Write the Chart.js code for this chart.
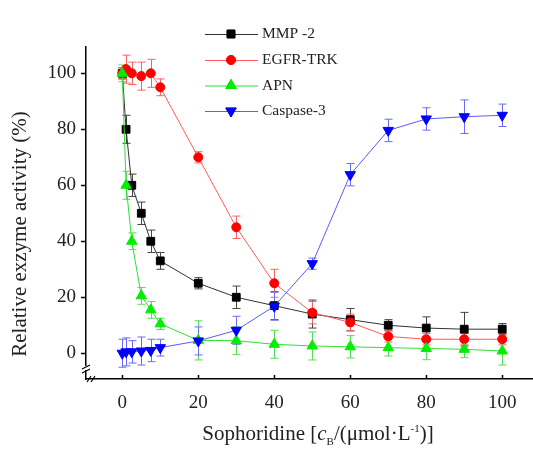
<!DOCTYPE html>
<html>
<head>
<meta charset="utf-8">
<script src="https://cdn.jsdelivr.net/npm/chart.js@4/dist/chart.umd.min.js"></script>
<style>
  html, body { margin: 0; padding: 0; background: #fff; }
  #wrap { width: 533px; height: 452px; }
</style>
</head>
<body>
<div id="wrap"><canvas id="chart" width="533" height="452"></canvas></div>
<script>
// Data
const concentrations = [0, 1, 2.5, 5, 7.5, 10, 20, 30, 40, 50, 60, 70, 80, 90, 100];
const xTicks = [0, 20, 40, 60, 80, 100];
const yTicks = [0, 20, 40, 60, 80, 100];

const mmp2 = [100, 80, 60, 50, 40, 33, 25, 20, 17, 14, 12, 10, 9, 8.6, 8.6];
const mmp2Err = [2, 5, 4, 4, 4, 3, 2, 4, 5, 5, 4, 2, 4, 6, 2];

const egfr = [100, 101.5, 100, 99, 100, 95, 70, 45, 25, 14.5, 11, 6, 5, 5, 5];
const egfrErr = [2, 5, 4, 5, 5, 3, 2, 4, 5, 4, 3, 2, 2, 2, 2];

const apn = [100, 60, 40, 20.5, 15.5, 10.5, 4.6, 4.5, 3.2, 2.6, 2.3, 2, 1.7, 1.4, 0.8];
const apnErr = [3, 5, 3, 3, 3, 2, 7, 5, 5, 5, 4, 3, 4, 3, 5];

const caspase = [0, 0.5, 0.5, 0.8, 1, 2, 4.4, 8.2, 16.8, 32, 63.8, 79.6, 83.7, 84.5, 85];
const caspaseErr = [5, 5, 4, 5, 4, 3, 5, 5, 5, 2, 4, 4, 4, 6, 4];

const SERIF = "'Liberation Serif', 'Times New Roman', serif";

function makeSeries(label, values, errs, color, lineColor, errColor, style, radius, rotation, order) {
    return {
        label: label,
        order: order,
        data: values.map((v, i) => ({ x: concentrations[i], y: v })),
        errors: errs,
        errColor: errColor,
        borderColor: lineColor,
        borderWidth: 1,
        backgroundColor: color,
        pointBackgroundColor: color,
        pointBorderColor: color,
        pointBorderWidth: 1,
        pointStyle: style,
        pointRadius: radius,
        pointRotation: rotation || 0,
        tension: 0,
        fill: false
    };
}

// later series sit on top, as in the figure
const datasets = [
    makeSeries('MMP -2', mmp2, mmp2Err, '#000000', '#333333', '#444444', 'rect', 5.5, 0, 4),
    makeSeries('EGFR-TRK', egfr, egfrErr, '#ff0000', '#ff5a5a', '#ff6060', 'circle', 4.5, 0, 3),
    makeSeries('APN', apn, apnErr, '#00ee00', '#33dd33', '#55dd55', 'triangle', 6, 0, 2),
    makeSeries('Caspase-3', caspase, caspaseErr, '#0000ff', '#5a5aff', '#6a6aff', 'triangle', 6, 180, 1)
];

// Error bars, drawn under the markers
const errorBars = {
    id: 'errorBars',
    beforeDatasetsDraw(chart) {
        const ctx = chart.ctx;
        const xs = chart.scales.x, ys = chart.scales.y;
        ctx.save();
        ctx.lineWidth = 1;
        chart.data.datasets.forEach(ds => {
            ctx.strokeStyle = ds.errColor;
            ds.data.forEach((p, i) => {
                const e = ds.errors[i];
                const px = Math.round(xs.getPixelForValue(p.x)) + 0.5;
                const top = ys.getPixelForValue(p.y + e);
                const bot = ys.getPixelForValue(p.y - e);
                ctx.beginPath();
                ctx.moveTo(px, top); ctx.lineTo(px, bot);
                ctx.moveTo(px - 4, top); ctx.lineTo(px + 4, top);
                ctx.moveTo(px - 4, bot); ctx.lineTo(px + 4, bot);
                ctx.stroke();
            });
        });
        ctx.restore();
    }
};

// Legend inside plot, axis titles, inward x ticks, axis break
const decorations = {
    id: 'decorations',
    afterDraw(chart) {
        const ctx = chart.ctx;
        const xs = chart.scales.x, ys = chart.scales.y;
        const area = chart.chartArea;
        ctx.save();

        // legend
        const legendY = [34, 60, 85.5, 111];
        chart.data.datasets.forEach((ds, i) => {
            const y = legendY[i];
            ctx.strokeStyle = ds.borderColor;
            ctx.lineWidth = 1;
            ctx.beginPath();
            ctx.moveTo(205, y + 0.5); ctx.lineTo(258, y + 0.5);
            ctx.stroke();
            Chart.helpers.drawPoint(ctx, {
                pointStyle: ds.pointStyle,
                radius: ds.pointRadius,
                rotation: ds.pointRotation,
                borderWidth: 1
            }, 231, y);
            ctx.fillStyle = ds.pointBackgroundColor;
            ctx.strokeStyle = ds.pointBorderColor;
            ctx.fill();
            ctx.stroke();
            ctx.fillStyle = '#222';
            ctx.font = '15.5px ' + SERIF;
            ctx.textAlign = 'left';
            ctx.textBaseline = 'middle';
            ctx.fillText(ds.label, 262, y);
        });

        // inward x ticks
        ctx.strokeStyle = '#000';
        ctx.lineWidth = 1.5;
        xTicks.forEach(v => {
            const px = Math.round(xs.getPixelForValue(v)) + 0.5;
            ctx.beginPath();
            ctx.moveTo(px, area.bottom); ctx.lineTo(px, area.bottom - 4);
            ctx.stroke();
        });

        // axis break on the lower left corner
        ctx.fillStyle = '#fff';
        ctx.fillRect(area.left - 3, area.bottom - 13, 6, 4);
        ctx.strokeStyle = '#000';
        ctx.lineWidth = 1.2;
        ctx.beginPath();
        ctx.moveTo(area.left - 4, area.bottom - 10); ctx.lineTo(area.left + 4, area.bottom - 14);
        ctx.moveTo(area.left - 4, area.bottom - 6); ctx.lineTo(area.left + 4, area.bottom - 10);
        ctx.moveTo(area.left + 1, area.bottom + 3); ctx.lineTo(area.left + 5, area.bottom - 3);
        ctx.moveTo(area.left + 5, area.bottom + 3); ctx.lineTo(area.left + 9, area.bottom - 3);
        ctx.stroke();

        // y title
        ctx.fillStyle = '#222';
        ctx.font = '21px ' + SERIF;
        ctx.textAlign = 'center';
        ctx.textBaseline = 'middle';
        ctx.save();
        ctx.translate(20, 234);
        ctx.rotate(-Math.PI / 2);
        ctx.fillText('Relative exzyme activity (%)', 0, 0);
        ctx.restore();

        // x title with italic c, subscript B and superscript -1
        const parts = [
            { t: 'Sophoridine [', f: '21px ' + SERIF, dy: 0 },
            { t: 'c', f: 'italic 21px ' + SERIF, dy: 0 },
            { t: 'B', f: '11px ' + SERIF, dy: 5 },
            { t: '/(\u03bcmol\u00b7L', f: '21px ' + SERIF, dy: 0 },
            { t: '-1', f: '11px ' + SERIF, dy: -8 },
            { t: ')]', f: '21px ' + SERIF, dy: 0 }
        ];
        let total = 0;
        parts.forEach(p => { ctx.font = p.f; p.w = ctx.measureText(p.t).width; total += p.w; });
        let cx = 318 - total / 2;
        ctx.textAlign = 'left';
        ctx.textBaseline = 'alphabetic';
        parts.forEach(p => {
            ctx.font = p.f;
            ctx.fillText(p.t, cx, 440 + p.dy);
            cx += p.w;
        });
        ctx.restore();
    }
};

new Chart(document.getElementById('chart'), {
    type: 'line',
    data: { datasets: datasets },
    options: {
        responsive: false,
        animation: false,
        events: [],
        layout: { autoPadding: false, padding: { top: 47, right: 0, left: 0, bottom: 0 } },
        plugins: { legend: { display: false }, tooltip: { enabled: false } },
        scales: {
            x: {
                type: 'linear',
                min: -9.55,
                max: 108.1,
                afterBuildTicks: s => { s.ticks = xTicks.map(v => ({ value: v })); },
                afterFit: s => { s.height = 73; s.paddingLeft = 0; s.paddingRight = 0; },
                grid: { display: true, drawOnChartArea: false, drawTicks: false },
                border: { color: '#000', width: 1.5 },
                ticks: { color: '#222', font: { family: SERIF, size: 19 }, padding: 13, maxRotation: 0 }
            },
            y: {
                type: 'linear',
                min: -9.2,
                max: 109.4,
                afterBuildTicks: s => { s.ticks = yTicks.map(v => ({ value: v })); },
                afterFit: s => { s.width = 86; s.paddingTop = 0; s.paddingBottom = 0; },
                grid: { display: true, drawOnChartArea: false, drawTicks: true, tickLength: 5, color: '#000', tickWidth: 1.5 },
                border: { color: '#000', width: 1.5 },
                ticks: { color: '#222', font: { family: SERIF, size: 19 }, padding: 5 }
            }
        }
    },
    plugins: [errorBars, decorations]
});
</script>
</body>
</html>
